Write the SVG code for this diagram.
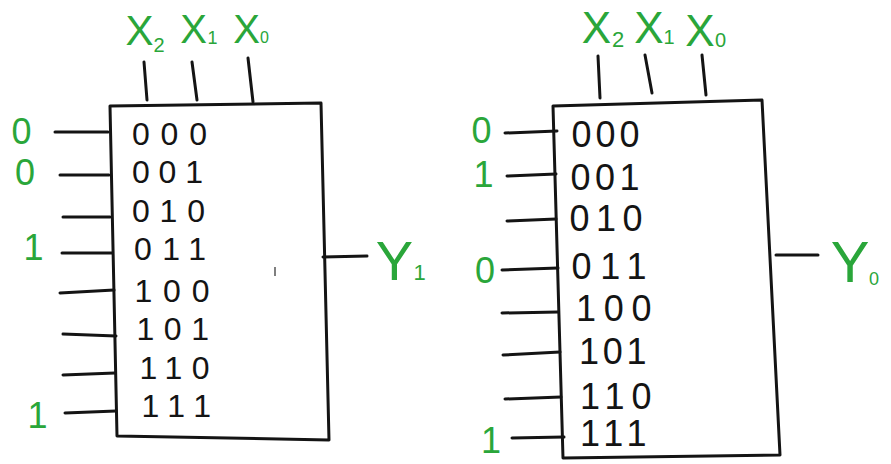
<svg xmlns="http://www.w3.org/2000/svg" width="891" height="464" viewBox="0 0 891 464">
  <style>
    .box { fill: #ffffff; stroke: #141414; stroke-width: 3; stroke-linejoin: round; }
    .wire { stroke: #141414; stroke-width: 3; stroke-linecap: round; fill: none; }
    .bits { font-family: "Liberation Sans", Arial, sans-serif; fill: #141414; }
    .lbl { font-family: "Liberation Sans", Arial, sans-serif; fill: #2aa63a; }
  </style>
  <rect width="891" height="464" fill="#ffffff"/>

  <g id="mux1">
    <path class="box" d="M110,106 L321,103 L329,440 L117,436 Z"/>
    <g class="bits" font-size="32">
      <text x="132" y="145" textLength="75" lengthAdjust="spacing">000</text>
      <text x="132" y="183" textLength="71" lengthAdjust="spacing">001</text>
      <text x="132" y="222" textLength="73" lengthAdjust="spacing">010</text>
      <text x="134" y="260" textLength="72" lengthAdjust="spacing">011</text>
      <text x="134.5" y="302" textLength="75" lengthAdjust="spacing">100</text>
      <text x="136.5" y="340" textLength="72.5" lengthAdjust="spacing">101</text>
      <text x="139.5" y="379" textLength="70" lengthAdjust="spacing">110</text>
      <text x="141.5" y="417" textLength="69.5" lengthAdjust="spacing">111</text>
    </g>
    <line x1="275" y1="267" x2="275" y2="276" stroke="#555" stroke-width="1.5"/>
  </g>

  <g id="mux0">
    <path class="box" d="M553,106 L762,100 L780,455 L563,458 Z"/>
    <g class="bits" font-size="36">
      <text x="571.5" y="147" textLength="68" lengthAdjust="spacing">000</text>
      <text x="570.5" y="190" textLength="69" lengthAdjust="spacing">001</text>
      <text x="569.5" y="231" textLength="73" lengthAdjust="spacing">010</text>
      <text x="571.5" y="279" textLength="75" lengthAdjust="spacing">011</text>
      <text x="576" y="321" textLength="75.5" lengthAdjust="spacing">100</text>
      <text x="579" y="364" textLength="67.5" lengthAdjust="spacing">101</text>
      <text x="580" y="409" textLength="71.5" lengthAdjust="spacing">110</text>
      <text x="580" y="446" textLength="66.5" lengthAdjust="spacing">111</text>
    </g>
  </g>

  <g id="connectors">
    <!-- mux1 select lines -->
    <line class="wire" x1="144" y1="62" x2="147" y2="100"/>
    <line class="wire" x1="192" y1="62" x2="197" y2="100"/>
    <line class="wire" x1="248" y1="58" x2="253" y2="102"/>
    <!-- mux1 inputs -->
    <line class="wire" x1="55" y1="132" x2="108" y2="132"/>
    <line class="wire" x1="60" y1="175" x2="109" y2="175"/>
    <line class="wire" x1="63" y1="217" x2="110" y2="217"/>
    <line class="wire" x1="62" y1="253" x2="112" y2="253"/>
    <line class="wire" x1="60" y1="293" x2="114" y2="290"/>
    <line class="wire" x1="63" y1="334" x2="116" y2="336"/>
    <line class="wire" x1="63" y1="375" x2="115" y2="373"/>
    <line class="wire" x1="65" y1="413" x2="116" y2="411"/>
    <!-- mux1 output -->
    <line class="wire" x1="323" y1="257" x2="367" y2="256"/>

    <!-- mux0 select lines -->
    <line class="wire" x1="598" y1="56" x2="600" y2="98"/>
    <line class="wire" x1="645" y1="55" x2="652" y2="93"/>
    <line class="wire" x1="702" y1="55" x2="706" y2="95"/>
    <!-- mux0 inputs -->
    <line class="wire" x1="505" y1="133" x2="557" y2="131"/>
    <line class="wire" x1="507" y1="176" x2="556" y2="174"/>
    <line class="wire" x1="507" y1="221" x2="556" y2="219"/>
    <line class="wire" x1="502" y1="270" x2="558" y2="268"/>
    <line class="wire" x1="502" y1="313" x2="558" y2="312"/>
    <line class="wire" x1="503" y1="355" x2="560" y2="352"/>
    <line class="wire" x1="505" y1="399" x2="561" y2="397"/>
    <line class="wire" x1="512" y1="438" x2="564" y2="437"/>
    <!-- mux0 output -->
    <line class="wire" x1="776" y1="255" x2="818" y2="255"/>
  </g>

  <g id="labels-mux1" class="lbl">
    <text x="139.5" y="45" font-size="42" text-anchor="middle">X</text>
    <text x="153.5" y="52" font-size="20">2</text>
    <text x="193.5" y="43" font-size="40" text-anchor="middle">X</text>
    <text x="207.5" y="44" font-size="18">1</text>
    <text x="246.5" y="43" font-size="40" text-anchor="middle">X</text>
    <text x="260" y="43" font-size="16">0</text>
    <text x="21.5" y="144" font-size="36" text-anchor="middle">0</text>
    <text x="25" y="185" font-size="36" text-anchor="middle">0</text>
    <text x="33.5" y="260" font-size="36" text-anchor="middle">1</text>
    <text x="37.5" y="428" font-size="36" text-anchor="middle">1</text>
    <text x="394.5" y="280" font-size="56" text-anchor="middle">Y</text>
    <text x="413.5" y="280" font-size="22">1</text>
  </g>

  <g id="labels-mux0" class="lbl">
    <text x="596.5" y="43" font-size="44" text-anchor="middle">X</text>
    <text x="612" y="47" font-size="22">2</text>
    <text x="649" y="43" font-size="44" text-anchor="middle">X</text>
    <text x="663.5" y="44" font-size="20">1</text>
    <text x="700" y="46" font-size="44" text-anchor="middle">X</text>
    <text x="715" y="47" font-size="20">0</text>
    <text x="481.5" y="143" font-size="36" text-anchor="middle">0</text>
    <text x="483.5" y="187" font-size="36" text-anchor="middle">1</text>
    <text x="485" y="283" font-size="36" text-anchor="middle">0</text>
    <text x="491" y="453" font-size="36" text-anchor="middle">1</text>
    <text x="850" y="282" font-size="58" text-anchor="middle">Y</text>
    <text x="869" y="285" font-size="18">0</text>
  </g>
</svg>
